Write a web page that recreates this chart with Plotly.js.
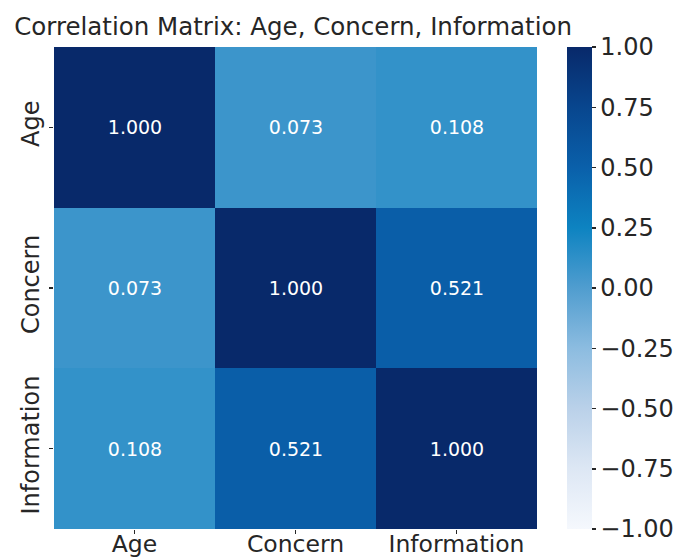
<!DOCTYPE html>
<html>
<head>
<meta charset="utf-8">
<script src="https://cdn.plot.ly/plotly-3.0.1.min.js"></script>
<style>html,body{margin:0;padding:0;background:#fff;overflow:hidden;}#chart{width:688px;height:559px;}</style>
</head>
<body>
<div id="chart"></div>
<script>
// Pairwise correlation of the three survey variables
const variables = ["Age", "Concern", "Information"];
const rowAge = [1.000, 0.073, 0.108];
const rowConcern = [0.073, 1.000, 0.521];
const rowInformation = [0.108, 0.521, 1.000];
const cbTicks = [-1, -0.75, -0.5, -0.25, 0, 0.25, 0.5, 0.75, 1];
const cbTickText = ["\u22121.00", "\u22120.75", "\u22120.50", "\u22120.25", "0.00", "0.25", "0.50", "0.75", "1.00"];

const z = [rowAge, rowConcern, rowInformation];
const labels = z.map(r => r.map(v => v.toFixed(3)));

// Sequential blue scale, white at -1 to navy at +1
const blues = [
  [0.0, "#f5f8fd"], [0.125, "#dde7f4"], [0.25, "#bad1e9"], [0.375, "#8cbce0"],
  [0.5, "#509dcf"], [0.625, "#0d83c1"], [0.75, "#0a60aa"], [0.875, "#08468e"], [1.0, "#08296a"]
];

const font = {family: "DejaVu Sans, sans-serif", color: "#262626"};

Plotly.newPlot("chart", [{
  type: "heatmap",
  x: variables,
  y: variables,
  z: z,
  zmin: -1,
  zmax: 1,
  colorscale: blues,
  text: labels,
  texttemplate: "%{text}",
  textfont: {family: "DejaVu Sans, sans-serif", size: 19, color: "#ffffff"},
  hoverinfo: "skip",
  colorbar: {
    x: 1.062, xanchor: "left", xref: "paper", xpad: 0,
    y: 0.5, yanchor: "middle", len: 1, lenmode: "fraction", ypad: 0,
    thickness: 25, thicknessmode: "pixels",
    outlinewidth: 0,
    tickmode: "array", tickvals: cbTicks, ticktext: cbTickText,
    ticks: "outside", ticklen: 4, tickwidth: 1.5, tickcolor: "#262626",
    tickfont: {family: font.family, size: 24, color: font.color}
  }
}], {
  width: 688, height: 559,
  margin: {l: 54, r: 151, t: 47, b: 30, pad: 0},
  paper_bgcolor: "#ffffff", plot_bgcolor: "#ffffff",
  font: font,
  title: {
    text: "Correlation Matrix: Age, Concern, Information",
    font: {family: font.family, size: 24.5, color: font.color},
    xref: "container", x: 0.426, xanchor: "center",
    yref: "container", y: 0.952, yanchor: "middle"
  },
  xaxis: {
    type: "category", showgrid: false, zeroline: false, showline: false,
    ticks: "outside", ticklen: 4, tickwidth: 1.5, tickcolor: "#262626",
    ticklabelstandoff: -10,
    tickfont: {family: font.family, size: 23.5, color: font.color},
    fixedrange: true
  },
  yaxis: {
    type: "category", autorange: "reversed", showgrid: false, zeroline: false, showline: false,
    ticks: "outside", ticklen: 4, tickwidth: 1.5, tickcolor: "#262626",
    tickangle: -90,
    tickfont: {family: font.family, size: 24, color: font.color},
    fixedrange: true
  }
}, {displayModeBar: false, staticPlot: true});
</script>
</body>
</html>
